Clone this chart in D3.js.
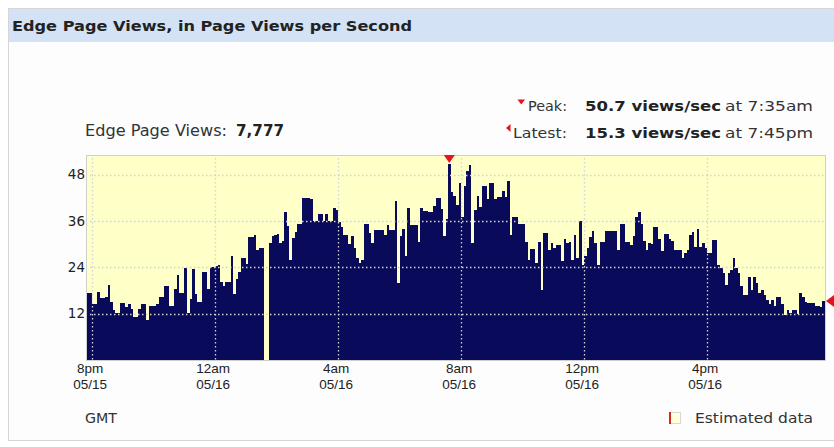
<!DOCTYPE html>
<html>
<head>
<meta charset="utf-8">
<script src="https://cdn.jsdelivr.net/npm/d3@7"></script>
<style>
  body { margin: 0; background: #fff; }
  svg { display: block; }
  text { font-family: "DejaVu Sans", Verdana, sans-serif; fill: #333; }
</style>
</head>
<body>
<svg id="chart" width="834" height="447"></svg>
<script>

// page views per second, one value per 5 minutes (first bar 7:50pm 05/15, last 7:45pm 05/16)
var views = [
  17.4,17.4,14.6,14.6,17.6,16.1,16.1,16.3,19.5,15.0,
  12.9,12.2,12.2,14.8,14.8,13.7,14.4,13.3,11.1,11.1,
  13.3,14.4,14.4,10.3,13.9,13.9,13.9,14.4,16.3,16.3,
  19.2,19.2,14.1,14.1,18.5,22.1,17.4,17.4,23.8,12.2,
  15.8,23.6,17.0,15.0,15.0,22.8,22.8,18.5,24.1,24.1,
  24.4,24.7,20.2,19.1,20.2,20.2,26.9,17.2,21.0,22.7,
  26.5,26.5,24.9,31.9,31.9,32.3,28.4,29.0,29.0,0,
  0,30.2,32.0,32.3,32.5,30.4,30.7,38.3,34.6,25.8,
  31.7,33.2,35.3,35.3,42.0,42.0,42.0,41.6,35.9,35.9,
  37.7,37.7,35.9,37.7,35.9,35.9,39.4,38.8,35.8,34.5,
  32.3,32.3,29.9,32.0,29.1,26.3,25.0,25.8,35.3,35.3,
  32.9,30.3,33.6,33.6,33.6,33.6,32.3,34.9,33.6,33.6,
  41.2,20.0,32.0,33.8,26.9,39.4,34.9,34.9,34.9,30.5,
  39.4,38.6,38.6,38.3,38.3,39.8,42.0,42.0,39.2,32.0,
  36.6,50.7,43.5,42.4,40.1,45.7,37.1,45.0,49.0,50.4,
  30.2,38.9,42.4,39.7,45.0,45.0,41.6,45.7,45.7,41.6,
  42.1,42.2,43.8,42.2,46.4,32.3,36.9,36.9,35.3,35.1,
  35.1,30.5,26.0,28.7,28.7,25.0,30.5,18.0,32.8,32.8,
  28.4,30.2,28.9,29.7,29.7,25.6,31.2,30.3,30.5,26.0,
  32.3,26.3,36.0,24.6,26.9,28.9,31.9,33.4,30.2,24.6,
  30.5,30.5,33.3,33.3,33.3,33.3,33.3,28.4,35.3,35.3,
  30.5,30.5,29.7,32.0,37.1,38.3,35.3,30.9,28.4,30.2,
  29.9,34.5,34.5,31.2,28.1,32.5,32.5,31.4,30.7,28.6,
  28.6,28.4,26.3,27.6,28.6,32.3,33.2,29.3,33.8,29.3,
  30.2,29.1,27.8,27.8,31.0,31.0,24.6,23.7,22.6,19.4,
  22.6,23.4,26.5,23.9,22.6,19.1,16.9,16.9,21.5,18.0,
  21.5,20.0,17.4,18.0,16.9,15.6,14.4,15.6,14.1,16.3,
  16.3,14.4,11.7,12.9,12.2,13.0,13.0,12.0,17.4,16.3,
  15.0,14.8,14.8,14.8,13.9,13.9,13.7,15.3
];

var yTicks = [12, 24, 36, 48];
var hourLabels = ["8pm", "12am", "4am", "8am", "12pm", "4pm"];
var dayLabels = ["05/15", "05/16", "05/16", "05/16", "05/16", "05/16"];

var peakValue = 50.7, peakTime = "7:35am";
var latestValue = 15.3, latestTime = "7:45pm";
var totalViews = "7,777";

var start = new Date(2012, 4, 15, 19, 50);
var times = views.map(function (v, i) { return d3.timeMinute.offset(start, 5 * i); });

var svg = d3.select("#chart");

// panel + title bar
svg.append("rect").attr("x", 8.5).attr("y", 8.5).attr("width", 830).attr("height", 432)
  .attr("fill", "#fdfdfe").attr("stroke", "#d6d6d6");
svg.append("rect").attr("x", 9).attr("y", 9).attr("width", 826).attr("height", 33)
  .attr("fill", "#d3e2f4");
svg.append("text").attr("x", 12).attr("y", 30.5)
  .attr("textLength", 400).attr("lengthAdjust", "spacingAndGlyphs")
  .style("font-size", "14px").style("font-weight", "bold").style("fill", "#222")
  .text("Edge Page Views, in Page Views per Second");

// plot area
var plotL = 87, plotR = 825, plotT = 156, plotB = 360;
var x = d3.scaleTime().domain([start, d3.timeMinute.offset(start, 1440)]).range([plotL, plotR]);
var y = d3.scaleLinear().domain([0, 52.8]).range([plotB, plotT]);

svg.append("rect").attr("x", plotL - 0.5).attr("y", plotT - 0.5).attr("width", plotR - plotL + 1).attr("height", plotB - plotT + 1)
  .attr("fill", "#ffffc8").attr("stroke", "#cfcfcf");

svg.append("g").selectAll("rect").data(views).join("rect")
  .attr("x", function (d, i) { return x(times[i]); })
  .attr("width", function (d, i) { return x(d3.timeMinute.offset(times[i], 5)) - x(times[i]); })
  .attr("y", function (d) { return y(d); })
  .attr("height", function (d) { return y(0) - y(d); })
  .attr("fill", "#0a0a5a")
  .attr("shape-rendering", "crispEdges");

var tickTimes = x.ticks(d3.timeHour.every(4));

// dotted grid on top of bars
var grid = svg.append("g").attr("stroke", "#d2d2d2").attr("stroke-width", 1.3).attr("stroke-dasharray", "1.5,2.5");
grid.selectAll("line.h").data(yTicks).join("line").attr("class", "h")
  .attr("x1", plotL + 3).attr("x2", plotR)
  .attr("y1", function (d) { return Math.round(y(d)) + 0.5; })
  .attr("y2", function (d) { return Math.round(y(d)) + 0.5; });
grid.selectAll("line.v").data(tickTimes).join("line").attr("class", "v")
  .attr("y1", plotT + 2).attr("y2", plotB)
  .attr("x1", function (d) { return Math.round(x(d)) + 0.5; })
  .attr("x2", function (d) { return Math.round(x(d)) + 0.5; });

// y labels
svg.append("g").selectAll("text").data(yTicks).join("text")
  .attr("x", 85).attr("y", function (d) { return y(d); }).attr("dy", "0.36em")
  .attr("text-anchor", "end").style("font-size", "13.5px").style("fill", "#222")
  .text(function (d) { return d; });

// x labels
var xl = svg.append("g").selectAll("g").data(tickTimes).join("g")
  .attr("transform", function (d) { return "translate(" + (x(d) - 2) + ",0)"; });
xl.append("text").attr("y", 373).attr("text-anchor", "middle")
  .style("font-family", "'Liberation Sans', Arial, sans-serif").style("font-size", "13.5px").style("fill", "#222")
  .text(function (d, i) { return hourLabels[i]; });
xl.append("text").attr("y", 389).attr("text-anchor", "middle")
  .style("font-family", "'Liberation Sans', Arial, sans-serif").style("font-size", "13.5px").style("fill", "#222")
  .text(function (d, i) { return dayLabels[i]; });

// peak + latest markers
var peakIdx = views.indexOf(peakValue);
var px = x(d3.timeMinute.offset(times[peakIdx], 2.5));
svg.append("path").attr("d", "M" + (px - 5.5) + "," + (plotT - 1) + "L" + (px + 5.5) + "," + (plotT - 1) + "L" + px + "," + (plotT + 7) + "Z")
  .attr("fill", "#e3141c");
var ly = y(latestValue);
svg.append("path").attr("d", "M" + (plotR + 1) + "," + ly + "L" + 834 + "," + (ly - 6) + "L" + 834 + "," + (ly + 6) + "Z")
  .attr("fill", "#e3141c");

// summary text
svg.append("text").attr("x", 85).attr("y", 136).attr("textLength", 142).attr("lengthAdjust", "spacingAndGlyphs")
  .style("font-size", "15px").text("Edge Page Views:");
svg.append("text").attr("x", 236).attr("y", 136).attr("textLength", 48).attr("lengthAdjust", "spacingAndGlyphs")
  .style("font-size", "15px").style("font-weight", "bold").style("fill", "#222").text(totalViews);

svg.append("path").attr("d", "M517.5,99.5L525,99.5L521.25,104.5Z").attr("fill", "#e3141c");
svg.append("path").attr("d", "M506,128L510.5,124L510.5,132Z").attr("fill", "#e3141c");

var rows = [["Peak:", peakValue, peakTime, 111, 39], ["Latest:", latestValue, latestTime, 137.5, 54]];
rows.forEach(function (r) {
  svg.append("text").attr("x", 567 - r[4]).attr("y", r[3]).attr("textLength", r[4]).attr("lengthAdjust", "spacingAndGlyphs")
    .style("font-size", "14.5px").text(r[0]);
  svg.append("text").attr("x", 585).attr("y", r[3]).attr("textLength", 136).attr("lengthAdjust", "spacingAndGlyphs")
    .style("font-size", "14.5px").style("font-weight", "bold").style("fill", "#222").text(r[1] + " views/sec");
  svg.append("text").attr("x", 725).attr("y", r[3]).attr("textLength", 88).attr("lengthAdjust", "spacingAndGlyphs")
    .style("font-size", "14.5px").text("at " + r[2]);
});

// footer
svg.append("text").attr("x", 85).attr("y", 422.5).attr("textLength", 32).attr("lengthAdjust", "spacingAndGlyphs")
  .style("font-size", "14px").text("GMT");
svg.append("rect").attr("x", 669.5).attr("y", 412.5).attr("width", 11).attr("height", 11)
  .attr("fill", "#ffffd8").attr("stroke", "#d8d8d8");
svg.append("rect").attr("x", 669).attr("y", 412).attr("width", 2).attr("height", 12).attr("fill", "#d42a1a");
svg.append("text").attr("x", 695).attr("y", 423).attr("textLength", 118).attr("lengthAdjust", "spacingAndGlyphs")
  .style("font-size", "14.5px").text("Estimated data");

</script>
</body>
</html>
